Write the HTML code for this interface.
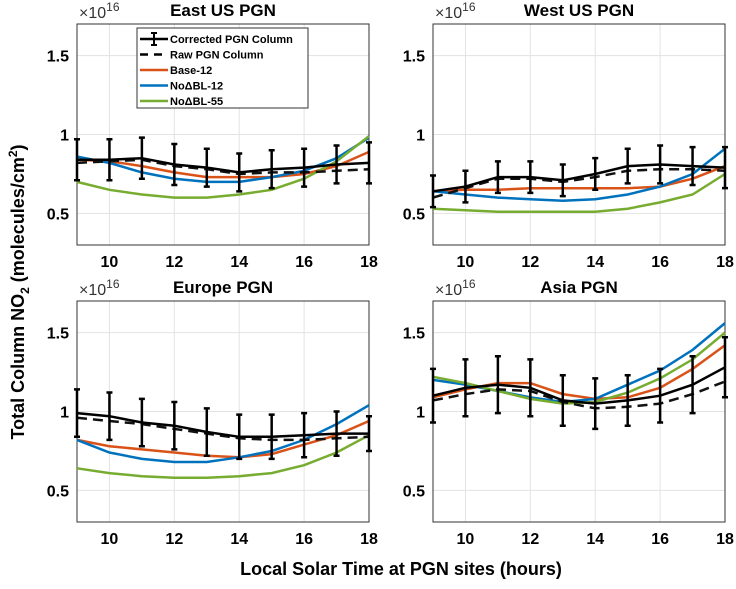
<!DOCTYPE html>
<html><head><meta charset="utf-8"><style>
body{margin:0;background:#fff;width:736px;height:584px;overflow:hidden}
svg{font-family:"Liberation Sans",sans-serif;font-weight:bold}
</style></head><body>
<svg id="c" width="736" height="584"></svg>
<script>
const hours=[9,10,11,12,13,14,15,16,17,18];
const panelTitles=["East US PGN","West US PGN","Europe PGN","Asia PGN"];
const corrected=[[0.84,0.84,0.85,0.81,0.79,0.76,0.78,0.79,0.81,0.82],[0.64,0.67,0.73,0.73,0.71,0.75,0.80,0.81,0.80,0.79],[0.99,0.97,0.93,0.91,0.87,0.84,0.84,0.85,0.86,0.86],[1.10,1.15,1.17,1.15,1.07,1.05,1.07,1.10,1.17,1.28]];
const correctedErr=[[0.13,0.13,0.13,0.13,0.12,0.12,0.12,0.12,0.12,0.13],[0.10,0.10,0.10,0.10,0.10,0.10,0.11,0.12,0.12,0.13],[0.15,0.15,0.15,0.15,0.15,0.14,0.14,0.14,0.14,0.11],[0.17,0.18,0.18,0.18,0.16,0.16,0.16,0.17,0.18,0.19]];
const rawCol=[[0.82,0.83,0.84,0.80,0.78,0.75,0.76,0.76,0.77,0.78],[0.60,0.66,0.72,0.72,0.70,0.73,0.77,0.78,0.78,0.77],[0.96,0.94,0.92,0.89,0.86,0.83,0.82,0.82,0.83,0.84],[1.07,1.11,1.14,1.13,1.06,1.02,1.03,1.05,1.11,1.19]];
const base12=[[0.84,0.83,0.80,0.76,0.73,0.73,0.73,0.75,0.80,0.89],[0.64,0.65,0.65,0.66,0.66,0.66,0.66,0.67,0.72,0.80],[0.82,0.78,0.76,0.74,0.72,0.71,0.73,0.79,0.85,0.94],[1.09,1.14,1.18,1.18,1.11,1.08,1.09,1.15,1.27,1.42]];
const noBL12=[[0.86,0.82,0.76,0.72,0.70,0.70,0.73,0.77,0.85,0.98],[0.64,0.62,0.60,0.59,0.58,0.59,0.62,0.67,0.75,0.91],[0.82,0.74,0.70,0.68,0.68,0.71,0.75,0.82,0.92,1.04],[1.20,1.17,1.13,1.09,1.06,1.08,1.17,1.26,1.39,1.56]];
const noBL55=[[0.70,0.65,0.62,0.60,0.60,0.62,0.65,0.72,0.83,0.99],[0.53,0.52,0.51,0.51,0.51,0.51,0.53,0.57,0.62,0.75],[0.64,0.61,0.59,0.58,0.58,0.59,0.61,0.66,0.74,0.85],[1.22,1.18,1.13,1.08,1.05,1.06,1.12,1.21,1.33,1.50]];
const yTicks=[0.5,1,1.5];
const yTickLabels=["0.5","1","1.5"];
const xTicks=[10,12,14,16,18];

const NS="http://www.w3.org/2000/svg";
const svg=document.getElementById('c');
function mk(tag,attrs,parent,text){const e=document.createElementNS(NS,tag);for(const k in attrs)e.setAttribute(k,attrs[k]);if(text!==undefined)e.textContent=text;(parent||svg).appendChild(e);return e;}
const panels=[{x0:77,x1:369,yb:245},{x0:433,x1:725,yb:245},{x0:77,x1:369,yb:522},{x0:433,x1:725,yb:522}];
const Y0=0.3,Y1=1.7,H=221;
const cols={base:"#d95319",b12:"#0072bd",b55:"#77ac30"};
panels.forEach((p,i)=>{
  const sx=v=>p.x0+(v-9)/9*(p.x1-p.x0);
  const sy=v=>p.yb-(v-Y0)/(Y1-Y0)*H;
  const g=mk('g',{});
  
  
  mk('rect',{x:p.x0,y:p.yb-H,width:p.x1-p.x0,height:H,fill:'#fff',stroke:'#333','stroke-width':1},g);
  xTicks.forEach(t=>{mk('line',{x1:sx(t),x2:sx(t),y1:p.yb-H,y2:p.yb,stroke:'#e3e3e3'},g);
    const tl=mk('text',{x:sx(t),y:p.yb+22,'text-anchor':'middle','font-size':16},g,String(t));
    });
  yTicks.forEach((t,k)=>{mk('line',{x1:p.x0,x2:p.x1,y1:sy(t),y2:sy(t),stroke:'#e3e3e3'},g);
    const tl=mk('text',{x:p.x0-8,y:sy(t)+6,'text-anchor':'end','font-size':16},g,yTickLabels[k]);
    });
  mk('rect',{x:p.x0,y:p.yb-H,width:p.x1-p.x0,height:H,fill:'none',stroke:'#333','stroke-width':1},g);
  const ex=mk('text',{x:p.x0+2,y:p.yb-H-6,'font-size':16,'font-weight':'normal',fill:'#333'},g);
  
  mk('tspan',{},ex,'×10');mk('tspan',{dy:-7,'font-size':12},ex,'16');
  const tt=mk('text',{x:(p.x0+p.x1)/2,y:p.yb-H-8,'text-anchor':'middle','font-size':17},g,panelTitles[i]);
  
  const path=arr=>arr.map((v,k)=>(k?'L':'M')+sx(hours[k]).toFixed(1)+' '+sy(v).toFixed(1)).join(' ');
  [[base12[i],cols.base,'base-12-line'],[noBL12[i],cols.b12,'nobl-12-line'],[noBL55[i],cols.b55,'nobl-55-line']].forEach(s=>{
    const l=mk('path',{d:path(s[0]),fill:'none',stroke:s[1],'stroke-width':2.5},g);
    });
  const rl=mk('path',{d:path(rawCol[i]),fill:'none',stroke:'#111','stroke-width':2.5,'stroke-dasharray':'10 6'},g);
  
  const cl=mk('path',{d:path(corrected[i]),fill:'none',stroke:'#000','stroke-width':2.5},g);
  
  corrected[i].forEach((v,k)=>{const x=sx(hours[k]),e=correctedErr[i][k];
    const eb=mk('path',{d:`M${x} ${sy(v+e)}L${x} ${sy(v-e)}M${x-3} ${sy(v+e)}L${x+3} ${sy(v+e)}M${x-3} ${sy(v-e)}L${x+3} ${sy(v-e)}`,stroke:'#000','stroke-width':2.5,fill:'none'},g);
    });
});
const lg=mk('g',{});


mk('rect',{x:137,y:28,width:171,height:80,fill:'#fff',stroke:'#333'},lg);
const entries=[["Corrected PGN Column","#000",""],["Raw PGN Column","#000","8 6"],["Base-12",cols.base,""],["NoΔBL-12",cols.b12,""],["NoΔBL-55",cols.b55,""]];
entries.forEach((e,k)=>{const y=39+k*15.5;
  mk('line',{x1:140,x2:168,y1:y,y2:y,stroke:e[1],'stroke-width':2.5,'stroke-dasharray':e[2]},lg);
  if(k==0)mk('path',{d:'M154 33L154 45M151 33L157 33M151 45L157 45',stroke:'#000','stroke-width':2},lg);
  const t=mk('text',{x:170,y:y+4,'font-size':11},lg,e[0]);
  });
const yl=mk('text',{x:0,y:0,transform:'translate(24,292) rotate(-90)','text-anchor':'middle','font-size':18});

mk('tspan',{},yl,'Total Column NO');mk('tspan',{dy:5,'font-size':12},yl,'2');mk('tspan',{dy:-5},yl,' (molecules/cm');mk('tspan',{dy:-7,'font-size':12},yl,'2');mk('tspan',{dy:7},yl,')');
const xl=mk('text',{x:401,y:575,'text-anchor':'middle','font-size':18},svg,'Local Solar Time at PGN sites (hours)');

</script>
</body></html>
